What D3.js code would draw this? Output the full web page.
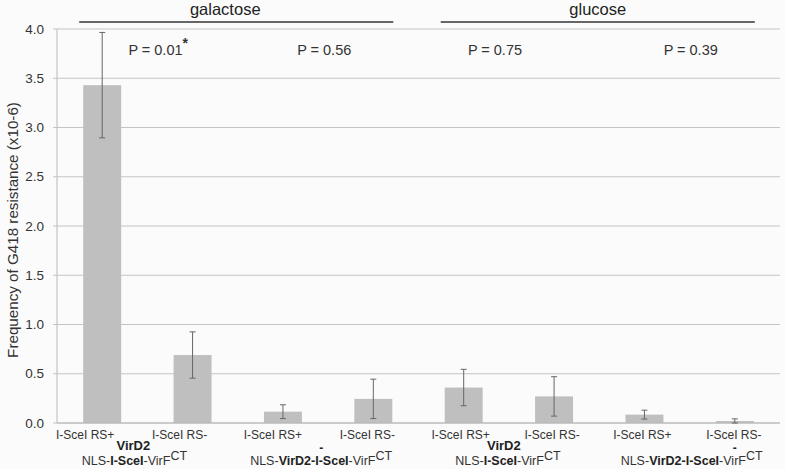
<!DOCTYPE html>
<html><head><meta charset="utf-8">
<script src="https://cdn.jsdelivr.net/npm/d3@7"></script>
<style>body{margin:0;background:#fff}svg{display:block;font-family:"Liberation Sans",Arial,sans-serif}</style>
</head><body><svg id="c" width="785" height="469"></svg>
<script>
const categories = ["I-SceI RS+","I-SceI RS-","I-SceI RS+","I-SceI RS-","I-SceI RS+","I-SceI RS-","I-SceI RS+","I-SceI RS-"];
const values = [3.43, 0.69, 0.115, 0.245, 0.36, 0.27, 0.085, 0.02];
const errors = [0.535, 0.235, 0.07, 0.2, 0.185, 0.2, 0.045, 0.022];
const yTicks = [0,0.5,1,1.5,2,2.5,3,3.5,4];
const pLabels = ["P = 0.01","P = 0.56","P = 0.75","P = 0.39"];
const pStar = [true,false,false,false];
const mediums = ["galactose","glucose"];
const constructTop = ["VirD2","-","VirD2","-"];
const constructBottom = [
  [["NLS-",false],["I-SceI",true],["-VirF",false]],
  [["NLS-",false],["VirD2-I-SceI",true],["-VirF",false]],
  [["NLS-",false],["I-SceI",true],["-VirF",false]],
  [["NLS-",false],["VirD2-I-SceI",true],["-VirF",false]]
];

const svg = d3.select("#c");
svg.append("rect").attr("width",785).attr("height",469).attr("fill","#fbfbfb");
const L=57,R=780,T=29,B=423;
const x = d3.scaleBand().domain(d3.range(categories.length)).range([L,R]).paddingInner(0.58).paddingOuter(0.29);
const y = d3.scaleLinear().domain([0,4]).range([B,T]);

// gridlines
svg.append("g").selectAll("line").data(yTicks).join("line")
  .attr("x1",L-4).attr("x2",R).attr("y1",d=>y(d)).attr("y2",d=>y(d))
  .attr("stroke","#c4c4c4").attr("stroke-width",1.2);
svg.append("line").attr("x1",L).attr("x2",L).attr("y1",T).attr("y2",B).attr("stroke","#c4c4c4").attr("stroke-width",1.2);
svg.append("g").selectAll("text").data(yTicks).join("text")
  .attr("x",44).attr("y",d=>y(d)+4.5).attr("text-anchor","end").attr("font-size",13.5).attr("fill","#333")
  .text(d=>d3.format(".1f")(d));

// bars
svg.append("g").selectAll("rect").data(values).join("rect")
  .attr("x",(d,i)=>x(i)).attr("width",x.bandwidth()).attr("y",d=>y(d)).attr("height",d=>y(0)-y(d))
  .attr("fill","#bfbfbf");
svg.append("line").attr("x1",L).attr("x2",R).attr("y1",B).attr("y2",B).attr("stroke","#b8b8b8").attr("stroke-width",1.2);

// error bars
const eg = svg.append("g").attr("stroke","#666").attr("stroke-width",1);
values.forEach((v,i)=>{
  const cx = x(i)+x.bandwidth()/2;
  const lo = Math.max(0,v-errors[i]), hi=v+errors[i];
  eg.append("line").attr("x1",cx).attr("x2",cx).attr("y1",y(lo)).attr("y2",y(hi));
  eg.append("line").attr("x1",cx-3).attr("x2",cx+3).attr("y1",y(hi)).attr("y2",y(hi));
  eg.append("line").attr("x1",cx-3).attr("x2",cx+3).attr("y1",y(lo)).attr("y2",y(lo));
});

// category labels
const labelDx = [-17,-13,-10,-6,-3,-2,-2,-1];
svg.append("g").selectAll("text").data(categories).join("text")
  .attr("x",(d,i)=>x(i)+x.bandwidth()/2+labelDx[i]).attr("y",438.5).attr("text-anchor","middle")
  .attr("font-size",12).attr("fill","#333").text(d=>d);

// construct labels
const pairMid = k => (x(2*k)+x(2*k+1)+x.bandwidth())/2;
const topOff = [-14,-7,-5,45];
const botOff = [-13,-7,-1,2];
constructTop.forEach((t,k)=>{
  const dash = t==="-";
  svg.append("text").attr("x",pairMid(k)+topOff[k]).attr("y",dash?452:450).attr("text-anchor","middle")
    .attr("font-size",dash?12:13).attr("font-weight","bold").attr("fill","#222").text(t);
  const tx = svg.append("text").attr("x",pairMid(k)+botOff[k]).attr("y",465).attr("text-anchor","middle")
    .attr("font-size",12.5).attr("fill","#333");
  constructBottom[k].forEach(([s,b])=>tx.append("tspan").attr("font-weight",b?"bold":"normal").attr("fill",b?"#222":"#333").text(s));
  tx.append("tspan").attr("dy",-5).text("CT");
});

// P values
const pOff = [-19,-31,-41,-26];
pLabels.forEach((p,k)=>{
  const t = svg.append("text").attr("x",pairMid(k)+pOff[k]).attr("y",55).attr("text-anchor","start")
    .attr("font-size",14.5).attr("fill","#333").text(p);
  if(pStar[k]) t.append("tspan").attr("dy",-7).attr("font-weight","bold").attr("font-size",14).text("*");
});

// medium headers
const medOff = [-11,0];
mediums.forEach((m,j)=>{
  const x1 = x(4*j)-4, x2 = x(4*j+3)+x.bandwidth()+1;
  svg.append("line").attr("x1",x1).attr("x2",x2).attr("y1",22).attr("y2",22).attr("stroke","#666").attr("stroke-width",2);
  svg.append("text").attr("x",(x1+x2)/2+medOff[j]).attr("y",15).attr("text-anchor","middle")
    .attr("font-size",16.5).attr("fill","#222").text(m);
});

// y title
svg.append("text").attr("transform",`translate(18,${(T+B)/2+4}) rotate(-90)`).attr("text-anchor","middle")
  .attr("font-size",15.2).attr("fill","#333").text("Frequency of G418 resistance (x10-6)");
</script></body></html>
